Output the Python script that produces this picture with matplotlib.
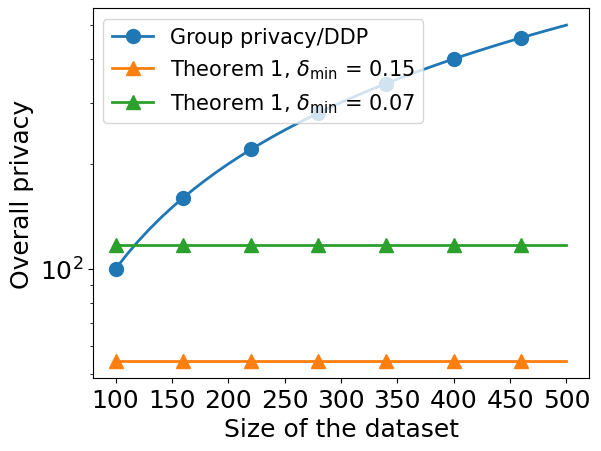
import matplotlib
matplotlib.use('Agg')
import matplotlib.pyplot as plt

# dataset sizes along the blue curve and its value (overall privacy)
sizes = [100, 110, 120, 130, 140, 150, 160, 170, 180, 190, 200,
         210, 220, 230, 240, 250, 260, 270, 280, 290, 300,
         310, 320, 330, 340, 350, 360, 370, 380, 390, 400,
         410, 420, 430, 440, 450, 460, 470, 480, 490, 500]
group_ddp = [100, 110, 120, 130, 140, 150, 160, 170, 180, 190, 200,
             210, 220, 230, 240, 250, 260, 270, 280, 290, 300,
             310, 320, 330, 340, 350, 360, 370, 380, 390, 400,
             410, 420, 430, 440, 450, 460, 470, 480, 490, 500]

# theorem 1 lines
thm_sizes = [100, 160, 220, 280, 340, 400, 460, 500]
thm_015 = [54.4, 54.4, 54.4, 54.4, 54.4, 54.4, 54.4, 54.4]
thm_007 = [117.2, 117.2, 117.2, 117.2, 117.2, 117.2, 117.2, 117.2]

xticks = [100, 150, 200, 250, 300, 350, 400, 450, 500]

fig = plt.figure(figsize=(6.01, 4.52), dpi=100)
ax = fig.add_axes([93/601, 1-379/452, (589-93)/601, (379-9.3)/452])

ax.plot(sizes, group_ddp, '-o', lw=2, markersize=10, markevery=6,
        label="Group privacy/DDP")
ax.plot(thm_sizes, thm_015, '-^', lw=2, markersize=10, markevery=list(range(7)),
        label=r"Theorem 1, $\delta_{\min}$ = 0.15")
ax.plot(thm_sizes, thm_007, '-^', lw=2, markersize=10, markevery=list(range(7)),
        label=r"Theorem 1, $\delta_{\min}$ = 0.07")
ax.set_yscale('log')
ax.set_xticks(xticks)
ax.tick_params(labelsize=18)
ax.set_xlabel("Size of the dataset", fontsize=18)
ax.set_ylabel("Overall privacy", fontsize=18)
ax.legend(loc='upper left', fontsize=15)
plt.savefig("out.png")
